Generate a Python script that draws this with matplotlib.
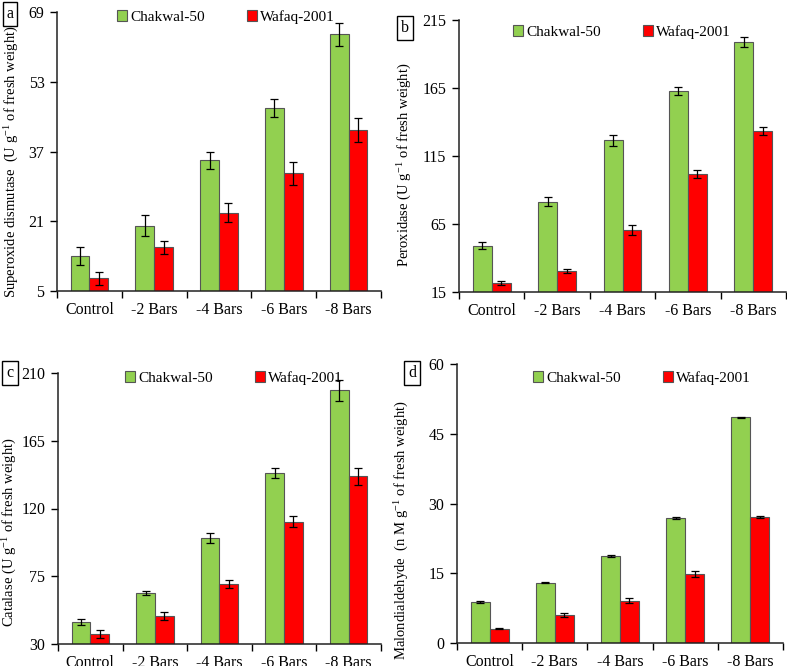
import numpy as np
import matplotlib
matplotlib.use('Agg')
import matplotlib.pyplot as plt

plt.rcParams['font.family'] = 'serif'
plt.rcParams['font.serif'] = ['Liberation Serif', 'DejaVu Serif']
plt.rcParams['mathtext.fontset'] = 'stix'
plt.rcParams['font.size'] = 11

categories = ['Control', '-2 Bars', '-4 Bars', '-6 Bars', '-8 Bars']
series_names = ['Chakwal-50', 'Wafaq-2001']

# a: superoxide dismutase
sod_chakwal = [13.0, 20.0, 35.0, 46.9, 63.9]
sod_chakwal_err = [2.0, 2.4, 2.0, 2.1, 2.6]
sod_wafaq = [7.9, 15.0, 23.0, 32.0, 41.9]
sod_wafaq_err = [1.5, 1.5, 2.1, 2.7, 2.7]

# b: peroxidase
pod_chakwal = [49.0, 81.5, 126.4, 162.6, 198.6]
pod_chakwal_err = [2.7, 3.0, 4.0, 3.0, 3.7]
pod_wafaq = [21.6, 30.6, 60.3, 101.6, 133.5]
pod_wafaq_err = [1.7, 1.5, 3.7, 3.0, 3.0]

# c: catalase
cat_chakwal = [44.6, 63.9, 100.4, 143.6, 198.5]
cat_chakwal_err = [2.0, 1.5, 3.3, 3.5, 6.8]
cat_wafaq = [36.8, 48.8, 69.9, 111.2, 141.3]
cat_wafaq_err = [2.5, 2.7, 2.8, 3.8, 5.4]

# d: malondialdehyde
mda_chakwal = [8.8, 13.0, 18.7, 26.8, 48.5]
mda_chakwal_err = [0.2, 0.2, 0.2, 0.2, 0.2]
mda_wafaq = [3.1, 6.0, 9.1, 14.8, 27.1]
mda_wafaq_err = [0.15, 0.4, 0.5, 0.6, 0.3]

W, H = 787, 666
fig = plt.figure(figsize=(W / 100, H / 100), dpi=100)

def px_axes(left, top, right, bottom):
    return fig.add_axes([left / W, 1 - bottom / H, (right - left) / W, (bottom - top) / H])

panels = [
    dict(rect=(57, 12, 381, 291), g=sod_chakwal, ge=sod_chakwal_err, r=sod_wafaq, re=sod_wafaq_err,
         ylim=(5, 69), yticks=[5, 21, 37, 53, 69],
         ylabel='Superoxide dismutase  (U g$^{\\mathregular{-1}}$ of fresh weight)',
         ylab=(11, 162), letter='a', box=(3, 4), leg=(117, 17)),
    dict(rect=(459, 20, 786, 292), g=pod_chakwal, ge=pod_chakwal_err, r=pod_wafaq, re=pod_wafaq_err,
         ylim=(15, 215), yticks=[15, 65, 115, 165, 215],
         ylabel='Peroxidase (U g$^{\\mathregular{-1}}$ of fresh weight)',
         ylab=(404, 165), letter='b', box=(398, 18), leg=(513, 32)),
    dict(rect=(58, 373, 381, 644), g=cat_chakwal, ge=cat_chakwal_err, r=cat_wafaq, re=cat_wafaq_err,
         ylim=(30, 210), yticks=[30, 75, 120, 165, 210],
         ylabel='Catalase (U g$^{\\mathregular{-1}}$ of fresh weight)',
         ylab=(9, 532), letter='c', box=(3, 363), leg=(125, 378)),
    dict(rect=(457, 364, 783, 643), g=mda_chakwal, ge=mda_chakwal_err, r=mda_wafaq, re=mda_wafaq_err,
         ylim=(0, 60), yticks=[0, 15, 30, 45, 60],
         ylabel='Malondialdehyde  (n M g$^{\\mathregular{-1}}$ of fresh weight)',
         ylab=(401, 530), letter='d', box=(405, 363), leg=(533, 378)),
]

x = np.arange(len(categories))
bw = 0.29
green = '#92D050'
red = '#FF0000'

for p in panels:
    ax = px_axes(*p['rect'])
    ax.bar(x - bw / 2, p['g'], bw, color=green, edgecolor='#555555', linewidth=0.8,
           yerr=p['ge'], capsize=3, error_kw=dict(elinewidth=0.9, capthick=0.9, ecolor='black'),
           label=series_names[0])
    ax.bar(x + bw / 2, p['r'], bw, color=red, edgecolor='#555555', linewidth=0.8,
           yerr=p['re'], capsize=3, error_kw=dict(elinewidth=0.9, capthick=0.9, ecolor='black'),
           label=series_names[1])
    ax.set_ylim(*p['ylim'])
    ax.set_yticks(p['yticks'])
    ax.set_xlim(-0.5, len(categories) - 0.5)
    ax.set_xticks(x)
    ax.set_xticklabels(categories)
    ax.set_xticks(np.arange(-0.5, len(categories), 1.0), minor=True)
    ax.tick_params(axis='x', which='major', length=0, pad=8, labelsize=11.5)
    ax.tick_params(axis='x', which='minor', length=5, width=1, direction='out')
    ax.tick_params(axis='y', length=5, width=1, direction='out', pad=4, labelsize=11.5)
    for s in ['top', 'right']:
        ax.spines[s].set_visible(False)
    for s in ['left', 'bottom']:
        ax.spines[s].set_linewidth(1.1)
        ax.spines[s].set_color('#222222')
    # y label
    yx, yy = p['ylab']
    fig.text(yx / W, 1 - yy / H, p['ylabel'], rotation=90,
             ha='center', va='center', fontsize=10.5)
    # panel letter box
    bx, by = p['box']
    fig.text((bx + 7) / W, 1 - (by + 10) / H, p['letter'], ha='center', va='center', fontsize=11.5,
             bbox=dict(boxstyle='square,pad=0.25', facecolor='white', edgecolor='black', linewidth=1))
    # legend
    lx, ly = p['leg']
    ax.legend(loc='center left', bbox_to_anchor=(lx / W, 1 - ly / H), bbox_transform=fig.transFigure,
              ncol=2, frameon=False, handlelength=0.65, handleheight=0.65, handletextpad=0.2,
              columnspacing=2.8, borderaxespad=0, borderpad=0, fontsize=11)

fig.savefig('out.png', dpi=100)
